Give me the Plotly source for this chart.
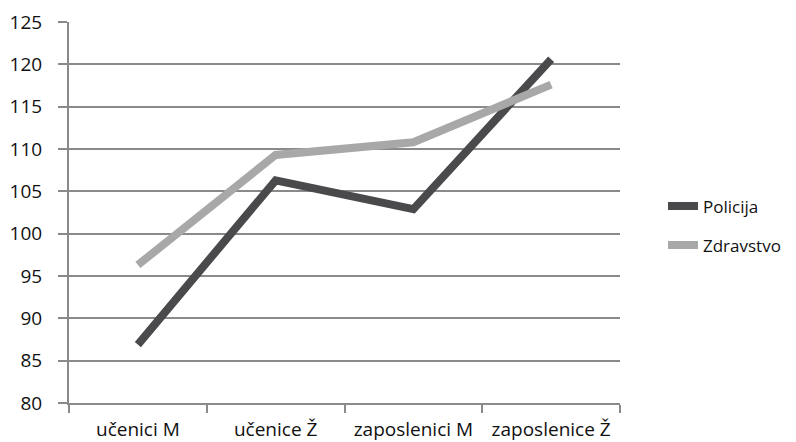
import plotly.graph_objects as go

categories = ["učenici M", "učenice Ž", "zaposlenici M", "zaposlenice Ž"]
policija = [86.9, 106.3, 102.9, 120.6]
zdravstvo = [96.3, 109.3, 110.8, 117.6]
y_ticks = [80, 85, 90, 95, 100, 105, 110, 115, 120, 125]

font_family = "Open Sans, Liberation Sans, Arial, sans-serif"
grid_color = "#8a8a8a"

fig = go.Figure()
fig.add_trace(go.Scatter(x=categories, y=policija, name="Policija", mode="lines",
                         line=dict(color="#4a4a4c", width=8), legendgroup="a"))
fig.add_trace(go.Scatter(x=categories, y=zdravstvo, name="Zdravstvo", mode="lines",
                         line=dict(color="#a8a8a8", width=8), legendgroup="b"))

fig.update_layout(
    width=796, height=442,
    margin=dict(l=61, r=184, t=14, b=47, autoexpand=False),
    paper_bgcolor="white", plot_bgcolor="white",
    font=dict(family=font_family, size=19, color="#111111"),
    showlegend=True,
    legend=dict(x=1.078, y=0.465, xanchor="left", yanchor="middle",
                tracegroupgap=14, traceorder="grouped",
                font=dict(size=17, color="#111111"), bgcolor="rgba(0,0,0,0)"),
    xaxis=dict(type="category", range=[-0.5, 3.5], showgrid=False, showline=True,
               linecolor=grid_color, linewidth=2, ticks="outside", tickson="boundaries",
               ticklen=8, tickcolor=grid_color, tickwidth=2, zeroline=False,
               ticklabelstandoff=8, automargin=False),
    yaxis=dict(range=[80, 125], tickvals=y_ticks, showgrid=True, gridcolor=grid_color,
               gridwidth=2, showline=True, linecolor=grid_color, linewidth=2,
               ticks="outside", ticklen=9, tickcolor=grid_color, tickwidth=2,
               zeroline=False, ticklabelstandoff=12, automargin=False),
)

fig.write_html("out.html")
